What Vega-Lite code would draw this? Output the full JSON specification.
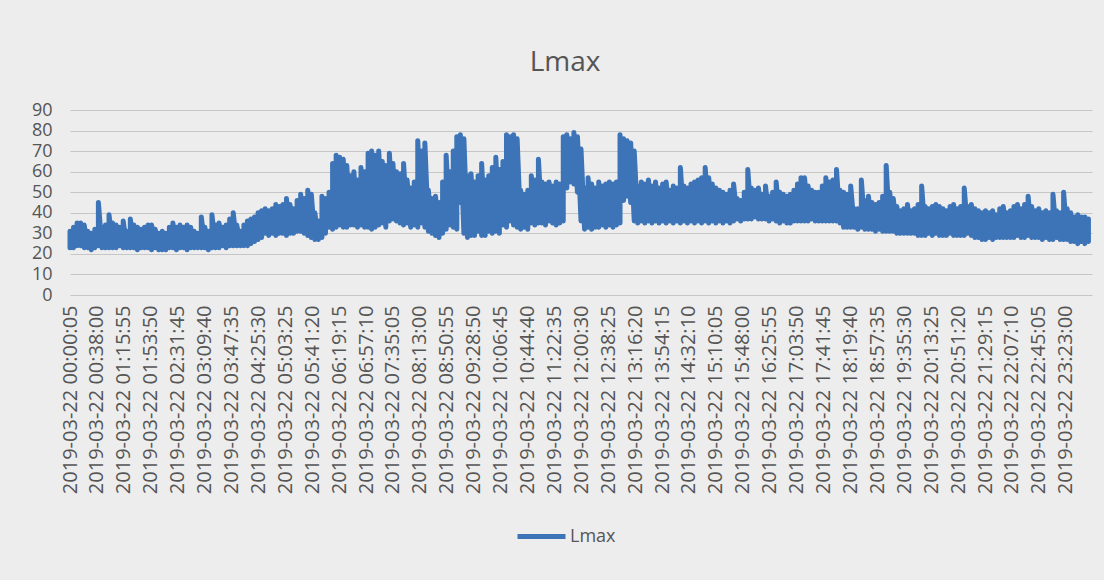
{
  "$schema": "https://vega.github.io/schema/vega-lite/v6.json",
  "width": 1022,
  "height": 185,
  "autosize": "none",
  "padding": {"left": 70, "top": 110, "right": 12, "bottom": 285},
  "background": "#ededed",
  "title": {"text": "Lmax", "fontSize": 28, "font": "Open Sans", "fontWeight": "normal", "color": "#555555", "anchor": "middle", "dx": -16, "offset": 24},
  "data": {
    "format": {"parse": {"t": "utc:'%H:%M'"}},
    "values": [
{"t":"00:00","lo":23,"hi":31},{"t":"00:05","lo":23,"hi":33},{"t":"00:10","lo":24,"hi":35},{"t":"00:15","lo":24,"hi":35},{"t":"00:20","lo":23,"hi":34},{"t":"00:25","lo":23,"hi":31},{"t":"00:30","lo":22,"hi":30},{"t":"00:35","lo":23,"hi":32},{"t":"00:40","lo":24,"hi":45},{"t":"00:45","lo":23,"hi":33},
{"t":"00:50","lo":23,"hi":34},{"t":"00:55","lo":23,"hi":39},{"t":"01:00","lo":23,"hi":35},{"t":"01:05","lo":23,"hi":34},{"t":"01:10","lo":24,"hi":33},{"t":"01:15","lo":23,"hi":36},{"t":"01:20","lo":23,"hi":31},{"t":"01:25","lo":23,"hi":37},{"t":"01:30","lo":23,"hi":34},{"t":"01:35","lo":22,"hi":33},
{"t":"01:40","lo":23,"hi":32},{"t":"01:45","lo":23,"hi":33},{"t":"01:50","lo":23,"hi":34},{"t":"01:55","lo":22,"hi":34},{"t":"02:00","lo":23,"hi":32},{"t":"02:05","lo":22,"hi":30},{"t":"02:10","lo":22,"hi":31},{"t":"02:15","lo":22,"hi":30},{"t":"02:20","lo":23,"hi":33},{"t":"02:25","lo":23,"hi":35},
{"t":"02:30","lo":22,"hi":33},{"t":"02:35","lo":23,"hi":34},{"t":"02:40","lo":23,"hi":33},{"t":"02:45","lo":22,"hi":34},{"t":"02:50","lo":23,"hi":33},{"t":"02:55","lo":23,"hi":31},{"t":"03:00","lo":23,"hi":30},{"t":"03:05","lo":23,"hi":38},{"t":"03:10","lo":23,"hi":33},{"t":"03:15","lo":22,"hi":31},
{"t":"03:20","lo":23,"hi":39},{"t":"03:25","lo":23,"hi":34},{"t":"03:30","lo":23,"hi":35},{"t":"03:35","lo":24,"hi":33},{"t":"03:40","lo":23,"hi":34},{"t":"03:45","lo":24,"hi":37},{"t":"03:50","lo":24,"hi":40},{"t":"03:55","lo":24,"hi":34},{"t":"04:00","lo":24,"hi":31},{"t":"04:05","lo":24,"hi":34},
{"t":"04:10","lo":24,"hi":36},{"t":"04:15","lo":25,"hi":37},{"t":"04:20","lo":26,"hi":38},{"t":"04:25","lo":27,"hi":40},{"t":"04:30","lo":28,"hi":41},{"t":"04:35","lo":30,"hi":42},{"t":"04:40","lo":29,"hi":41},{"t":"04:45","lo":30,"hi":42},{"t":"04:50","lo":29,"hi":44},{"t":"04:55","lo":30,"hi":43},
{"t":"05:00","lo":30,"hi":44},{"t":"05:05","lo":29,"hi":47},{"t":"05:10","lo":30,"hi":44},{"t":"05:15","lo":30,"hi":42},{"t":"05:20","lo":31,"hi":46},{"t":"05:25","lo":31,"hi":49},{"t":"05:30","lo":30,"hi":47},{"t":"05:35","lo":29,"hi":51},{"t":"05:40","lo":28,"hi":49},{"t":"05:45","lo":27,"hi":40},
{"t":"05:50","lo":27,"hi":36},{"t":"05:55","lo":28,"hi":48},{"t":"06:00","lo":30,"hi":47},{"t":"06:05","lo":33,"hi":50},{"t":"06:10","lo":32,"hi":64},{"t":"06:15","lo":33,"hi":68},{"t":"06:20","lo":34,"hi":67},{"t":"06:25","lo":33,"hi":66},{"t":"06:30","lo":33,"hi":63},{"t":"06:35","lo":34,"hi":58},
{"t":"06:40","lo":34,"hi":60},{"t":"06:45","lo":33,"hi":56},{"t":"06:50","lo":34,"hi":62},{"t":"06:55","lo":33,"hi":60},{"t":"07:00","lo":33,"hi":69},{"t":"07:05","lo":32,"hi":70},{"t":"07:10","lo":33,"hi":68},{"t":"07:15","lo":34,"hi":70},{"t":"07:20","lo":35,"hi":65},{"t":"07:25","lo":33,"hi":63},
{"t":"07:30","lo":36,"hi":69},{"t":"07:35","lo":37,"hi":64},{"t":"07:40","lo":36,"hi":60},{"t":"07:45","lo":35,"hi":59},{"t":"07:50","lo":34,"hi":64},{"t":"07:55","lo":35,"hi":56},{"t":"08:00","lo":33,"hi":52},{"t":"08:05","lo":34,"hi":55},{"t":"08:10","lo":33,"hi":75},{"t":"08:15","lo":35,"hi":70},
{"t":"08:20","lo":33,"hi":74},{"t":"08:25","lo":31,"hi":51},{"t":"08:30","lo":30,"hi":47},{"t":"08:35","lo":29,"hi":48},{"t":"08:40","lo":28,"hi":45},{"t":"08:45","lo":30,"hi":55},{"t":"08:50","lo":32,"hi":68},{"t":"08:55","lo":34,"hi":60},{"t":"09:00","lo":33,"hi":70},{"t":"09:05","lo":32,"hi":77},
{"t":"09:10","lo":45,"hi":78},{"t":"09:15","lo":30,"hi":76},{"t":"09:20","lo":28,"hi":58},{"t":"09:25","lo":29,"hi":59},{"t":"09:30","lo":29,"hi":55},{"t":"09:35","lo":31,"hi":58},{"t":"09:40","lo":29,"hi":64},{"t":"09:45","lo":29,"hi":56},{"t":"09:50","lo":31,"hi":58},{"t":"09:55","lo":30,"hi":62},
{"t":"10:00","lo":31,"hi":67},{"t":"10:05","lo":30,"hi":61},{"t":"10:10","lo":34,"hi":65},{"t":"10:15","lo":33,"hi":78},{"t":"10:20","lo":36,"hi":77},{"t":"10:25","lo":34,"hi":78},{"t":"10:30","lo":33,"hi":76},{"t":"10:35","lo":32,"hi":51},{"t":"10:40","lo":33,"hi":49},{"t":"10:45","lo":32,"hi":51},
{"t":"10:50","lo":35,"hi":58},{"t":"10:55","lo":34,"hi":56},{"t":"11:00","lo":35,"hi":66},{"t":"11:05","lo":35,"hi":55},{"t":"11:10","lo":34,"hi":54},{"t":"11:15","lo":36,"hi":55},{"t":"11:20","lo":35,"hi":53},{"t":"11:25","lo":34,"hi":55},{"t":"11:30","lo":35,"hi":54},{"t":"11:35","lo":36,"hi":77},
{"t":"11:40","lo":52,"hi":78},{"t":"11:45","lo":55,"hi":76},{"t":"11:50","lo":54,"hi":79},{"t":"11:55","lo":50,"hi":77},{"t":"12:00","lo":36,"hi":71},{"t":"12:05","lo":32,"hi":52},{"t":"12:10","lo":33,"hi":57},{"t":"12:15","lo":32,"hi":54},{"t":"12:20","lo":33,"hi":52},{"t":"12:25","lo":33,"hi":55},
{"t":"12:30","lo":34,"hi":53},{"t":"12:35","lo":33,"hi":54},{"t":"12:40","lo":34,"hi":55},{"t":"12:45","lo":33,"hi":54},{"t":"12:50","lo":34,"hi":55},{"t":"12:55","lo":35,"hi":78},{"t":"13:00","lo":46,"hi":76},{"t":"13:05","lo":48,"hi":75},{"t":"13:10","lo":45,"hi":74},{"t":"13:15","lo":36,"hi":70},
{"t":"13:20","lo":35,"hi":53},{"t":"13:25","lo":36,"hi":55},{"t":"13:30","lo":35,"hi":54},{"t":"13:35","lo":36,"hi":56},{"t":"13:40","lo":35,"hi":53},{"t":"13:45","lo":36,"hi":55},{"t":"13:50","lo":35,"hi":52},{"t":"13:55","lo":36,"hi":54},{"t":"14:00","lo":35,"hi":55},{"t":"14:05","lo":36,"hi":51},
{"t":"14:10","lo":35,"hi":53},{"t":"14:15","lo":36,"hi":52},{"t":"14:20","lo":35,"hi":62},{"t":"14:25","lo":36,"hi":53},{"t":"14:30","lo":35,"hi":52},{"t":"14:35","lo":36,"hi":54},{"t":"14:40","lo":35,"hi":55},{"t":"14:45","lo":36,"hi":56},{"t":"14:50","lo":35,"hi":57},{"t":"14:55","lo":36,"hi":62},
{"t":"15:00","lo":35,"hi":57},{"t":"15:05","lo":36,"hi":54},{"t":"15:10","lo":35,"hi":52},{"t":"15:15","lo":36,"hi":51},{"t":"15:20","lo":35,"hi":50},{"t":"15:25","lo":36,"hi":49},{"t":"15:30","lo":35,"hi":51},{"t":"15:35","lo":36,"hi":54},{"t":"15:40","lo":37,"hi":47},{"t":"15:45","lo":36,"hi":46},
{"t":"15:50","lo":37,"hi":50},{"t":"15:55","lo":37,"hi":61},{"t":"16:00","lo":37,"hi":52},{"t":"16:05","lo":38,"hi":51},{"t":"16:10","lo":37,"hi":52},{"t":"16:15","lo":37,"hi":49},{"t":"16:20","lo":37,"hi":53},{"t":"16:25","lo":36,"hi":48},{"t":"16:30","lo":37,"hi":50},{"t":"16:35","lo":36,"hi":55},
{"t":"16:40","lo":35,"hi":50},{"t":"16:45","lo":36,"hi":49},{"t":"16:50","lo":35,"hi":48},{"t":"16:55","lo":35,"hi":49},{"t":"17:00","lo":36,"hi":51},{"t":"17:05","lo":36,"hi":54},{"t":"17:10","lo":36,"hi":57},{"t":"17:15","lo":36,"hi":57},{"t":"17:20","lo":36,"hi":53},{"t":"17:25","lo":37,"hi":51},
{"t":"17:30","lo":36,"hi":50},{"t":"17:35","lo":36,"hi":50},{"t":"17:40","lo":36,"hi":53},{"t":"17:45","lo":36,"hi":57},{"t":"17:50","lo":36,"hi":55},{"t":"17:55","lo":36,"hi":56},{"t":"18:00","lo":36,"hi":61},{"t":"18:05","lo":35,"hi":51},{"t":"18:10","lo":33,"hi":50},{"t":"18:15","lo":33,"hi":49},
{"t":"18:20","lo":33,"hi":53},{"t":"18:25","lo":33,"hi":42},{"t":"18:30","lo":32,"hi":42},{"t":"18:35","lo":33,"hi":56},{"t":"18:40","lo":32,"hi":46},{"t":"18:45","lo":32,"hi":48},{"t":"18:50","lo":32,"hi":45},{"t":"18:55","lo":31,"hi":44},{"t":"19:00","lo":32,"hi":45},{"t":"19:05","lo":31,"hi":48},
{"t":"19:10","lo":31,"hi":63},{"t":"19:15","lo":31,"hi":50},{"t":"19:20","lo":31,"hi":47},{"t":"19:25","lo":30,"hi":43},{"t":"19:30","lo":30,"hi":41},{"t":"19:35","lo":30,"hi":42},{"t":"19:40","lo":30,"hi":44},{"t":"19:45","lo":30,"hi":41},{"t":"19:50","lo":30,"hi":42},{"t":"19:55","lo":29,"hi":44},
{"t":"20:00","lo":29,"hi":53},{"t":"20:05","lo":29,"hi":43},{"t":"20:10","lo":30,"hi":42},{"t":"20:15","lo":29,"hi":43},{"t":"20:20","lo":30,"hi":44},{"t":"20:25","lo":29,"hi":43},{"t":"20:30","lo":29,"hi":42},{"t":"20:35","lo":29,"hi":41},{"t":"20:40","lo":30,"hi":43},{"t":"20:45","lo":29,"hi":44},
{"t":"20:50","lo":29,"hi":42},{"t":"20:55","lo":29,"hi":43},{"t":"21:00","lo":29,"hi":52},{"t":"21:05","lo":30,"hi":43},{"t":"21:10","lo":29,"hi":44},{"t":"21:15","lo":28,"hi":42},{"t":"21:20","lo":28,"hi":41},{"t":"21:25","lo":27,"hi":40},{"t":"21:30","lo":27,"hi":41},{"t":"21:35","lo":28,"hi":40},
{"t":"21:40","lo":27,"hi":41},{"t":"21:45","lo":28,"hi":39},{"t":"21:50","lo":28,"hi":42},{"t":"21:55","lo":28,"hi":43},{"t":"22:00","lo":28,"hi":40},{"t":"22:05","lo":28,"hi":41},{"t":"22:10","lo":28,"hi":43},{"t":"22:15","lo":29,"hi":44},{"t":"22:20","lo":28,"hi":42},{"t":"22:25","lo":28,"hi":44},
{"t":"22:30","lo":29,"hi":48},{"t":"22:35","lo":28,"hi":43},{"t":"22:40","lo":28,"hi":41},{"t":"22:45","lo":28,"hi":42},{"t":"22:50","lo":27,"hi":40},{"t":"22:55","lo":28,"hi":41},{"t":"23:00","lo":27,"hi":40},{"t":"23:05","lo":27,"hi":49},{"t":"23:10","lo":28,"hi":41},{"t":"23:15","lo":27,"hi":40},
{"t":"23:20","lo":27,"hi":50},{"t":"23:25","lo":27,"hi":42},{"t":"23:30","lo":26,"hi":40},{"t":"23:35","lo":26,"hi":38},{"t":"23:40","lo":25,"hi":39},{"t":"23:45","lo":26,"hi":38},{"t":"23:50","lo":25,"hi":38},{"t":"23:55","lo":26,"hi":37}
    ]
  },
  "transform": [{"fold": ["lo", "hi"], "as": ["k", "v"]}],
  "mark": {"type": "line", "strokeWidth": 5, "strokeJoin": "round", "strokeCap": "round"},
  "encoding": {
    "x": {
      "field": "t", "type": "temporal",
      "scale": {"type": "utc", "domain": [{"year": 1900, "month": 1, "date": 1, "hours": 0, "utc": true}, {"year": 1900, "month": 1, "date": 2, "hours": 0, "utc": true}]},
      "axis": {
        "title": null, "grid": false, "domain": false, "ticks": false,
        "labelAngle": -90, "labelPadding": 10, "labelOverlap": false, "labelBound": false, "labelFlush": false, "labelLimit": 300,
        "labelFont": "Open Sans", "labelFontSize": 20, "labelColor": "#555555",
        "labelExpr": "'2019-03-22 ' + utcFormat(datum.value, '%H:%M:%S')",
        "values": [
          {"year":1900,"month":1,"date":1,"hours":0,"minutes":0,"seconds":5,"utc":true},
          {"year":1900,"month":1,"date":1,"hours":0,"minutes":38,"seconds":0,"utc":true},
          {"year":1900,"month":1,"date":1,"hours":1,"minutes":15,"seconds":55,"utc":true},
          {"year":1900,"month":1,"date":1,"hours":1,"minutes":53,"seconds":50,"utc":true},
          {"year":1900,"month":1,"date":1,"hours":2,"minutes":31,"seconds":45,"utc":true},
          {"year":1900,"month":1,"date":1,"hours":3,"minutes":9,"seconds":40,"utc":true},
          {"year":1900,"month":1,"date":1,"hours":3,"minutes":47,"seconds":35,"utc":true},
          {"year":1900,"month":1,"date":1,"hours":4,"minutes":25,"seconds":30,"utc":true},
          {"year":1900,"month":1,"date":1,"hours":5,"minutes":3,"seconds":25,"utc":true},
          {"year":1900,"month":1,"date":1,"hours":5,"minutes":41,"seconds":20,"utc":true},
          {"year":1900,"month":1,"date":1,"hours":6,"minutes":19,"seconds":15,"utc":true},
          {"year":1900,"month":1,"date":1,"hours":6,"minutes":57,"seconds":10,"utc":true},
          {"year":1900,"month":1,"date":1,"hours":7,"minutes":35,"seconds":5,"utc":true},
          {"year":1900,"month":1,"date":1,"hours":8,"minutes":13,"seconds":0,"utc":true},
          {"year":1900,"month":1,"date":1,"hours":8,"minutes":50,"seconds":55,"utc":true},
          {"year":1900,"month":1,"date":1,"hours":9,"minutes":28,"seconds":50,"utc":true},
          {"year":1900,"month":1,"date":1,"hours":10,"minutes":6,"seconds":45,"utc":true},
          {"year":1900,"month":1,"date":1,"hours":10,"minutes":44,"seconds":40,"utc":true},
          {"year":1900,"month":1,"date":1,"hours":11,"minutes":22,"seconds":35,"utc":true},
          {"year":1900,"month":1,"date":1,"hours":12,"minutes":0,"seconds":30,"utc":true},
          {"year":1900,"month":1,"date":1,"hours":12,"minutes":38,"seconds":25,"utc":true},
          {"year":1900,"month":1,"date":1,"hours":13,"minutes":16,"seconds":20,"utc":true},
          {"year":1900,"month":1,"date":1,"hours":13,"minutes":54,"seconds":15,"utc":true},
          {"year":1900,"month":1,"date":1,"hours":14,"minutes":32,"seconds":10,"utc":true},
          {"year":1900,"month":1,"date":1,"hours":15,"minutes":10,"seconds":5,"utc":true},
          {"year":1900,"month":1,"date":1,"hours":15,"minutes":48,"seconds":0,"utc":true},
          {"year":1900,"month":1,"date":1,"hours":16,"minutes":25,"seconds":55,"utc":true},
          {"year":1900,"month":1,"date":1,"hours":17,"minutes":3,"seconds":50,"utc":true},
          {"year":1900,"month":1,"date":1,"hours":17,"minutes":41,"seconds":45,"utc":true},
          {"year":1900,"month":1,"date":1,"hours":18,"minutes":19,"seconds":40,"utc":true},
          {"year":1900,"month":1,"date":1,"hours":18,"minutes":57,"seconds":35,"utc":true},
          {"year":1900,"month":1,"date":1,"hours":19,"minutes":35,"seconds":30,"utc":true},
          {"year":1900,"month":1,"date":1,"hours":20,"minutes":13,"seconds":25,"utc":true},
          {"year":1900,"month":1,"date":1,"hours":20,"minutes":51,"seconds":20,"utc":true},
          {"year":1900,"month":1,"date":1,"hours":21,"minutes":29,"seconds":15,"utc":true},
          {"year":1900,"month":1,"date":1,"hours":22,"minutes":7,"seconds":10,"utc":true},
          {"year":1900,"month":1,"date":1,"hours":22,"minutes":45,"seconds":5,"utc":true},
          {"year":1900,"month":1,"date":1,"hours":23,"minutes":23,"seconds":0,"utc":true}
        ]
      }
    },
    "y": {
      "field": "v", "type": "quantitative",
      "scale": {"domain": [0, 90], "nice": false},
      "axis": {
        "title": null, "values": [0, 10, 20, 30, 40, 50, 60, 70, 80, 90],
        "domain": false, "ticks": false, "labelPadding": 18,
        "labelFont": "Open Sans", "labelFontSize": 18, "labelColor": "#555555",
        "gridColor": "#c6c6c6", "gridWidth": 1
      }
    },
    "order": [{"field": "t", "type": "temporal"}, {"field": "k", "type": "nominal"}],
    "color": {
      "datum": "Lmax",
      "scale": {"range": ["#3d74b8"]},
      "legend": {
        "title": null, "orient": "none", "legendX": 445, "legendY": 400,
        "symbolType": "stroke", "symbolStrokeWidth": 5, "symbolSize": 2304,
        "labelFont": "Open Sans", "labelFontSize": 18, "labelColor": "#555555", "labelOffset": 2
      }
    }
  },
  "config": {"view": {"stroke": null}}
}
